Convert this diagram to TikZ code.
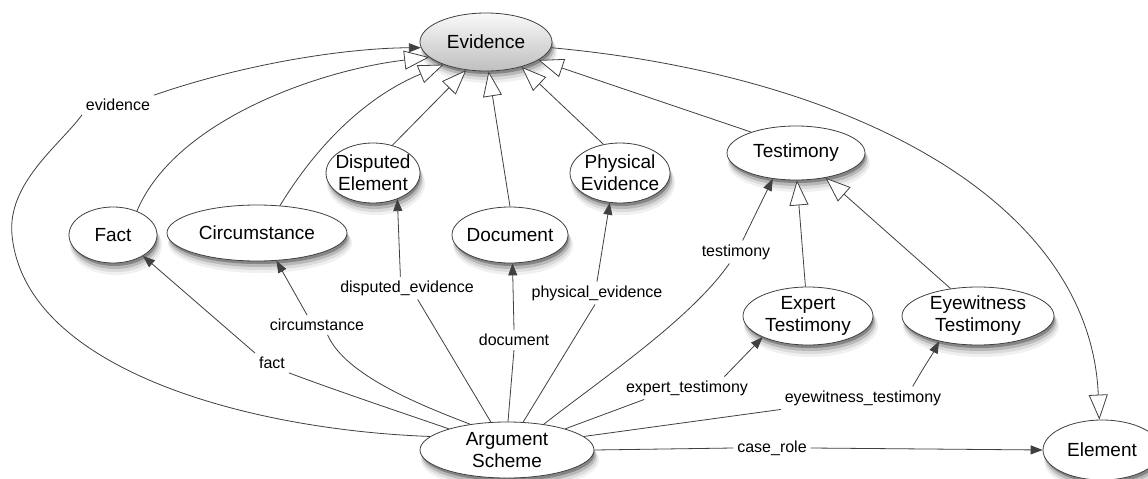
\documentclass[tikz,border=0pt]{standalone}
\usepackage{fontspec}
\setmainfont{Liberation Sans}
\usetikzlibrary{shapes.geometric,arrows.meta}
\pgfdeclarelayer{bg}
\pgfdeclarelayer{shade}
\pgfsetlayers{bg,shade,main}

\begin{document}
\begin{tikzpicture}[x=1pt,y=-1pt,
  cls/.style={ellipse, draw=black!75, line width=0.8pt, fill=white,
    inner xsep=-40pt, inner ysep=-20pt, font=\fontsize{19}{22}\selectfont,
    align=center, text=black},
  lbl/.style={inner sep=1pt, outer sep=3pt, font=\fontsize{16}{18}\selectfont, text=black},
  edge/.style={draw=black!75, line width=0.8pt},
  gen/.style={edge, -{Triangle[length=25pt,width=19pt,fill=white]}},
  assoc/.style={edge, -{Triangle[length=12pt,width=9pt]}},
]
\begin{pgfonlayer}{bg}
\fill[white] (0,0) rectangle (1148,479);
\end{pgfonlayer}
\useasboundingbox (0,0) rectangle (1148,479);

% classes
\node[cls, minimum width=132pt, minimum height=58pt, top color=gray!5, bottom color=gray!50] (Evidence) at (486,42) {Evidence};
\node[cls, minimum width=88pt, minimum height=56pt] (Fact) at (113,235) {Fact};
\node[cls, minimum width=180pt, minimum height=56pt] (Circ) at (257,233) {Circumstance};
\node[cls, minimum width=94pt, minimum height=60pt] (Disp) at (373,173) {Disputed\\Element};
\node[cls, minimum width=116pt, minimum height=56pt] (Doc) at (510,235) {Document};
\node[cls, minimum width=100pt, minimum height=60pt] (Phys) at (620,173) {Physical\\Evidence};
\node[cls, minimum width=138pt, minimum height=54pt] (Test) at (796,153) {Testimony};
\node[cls, minimum width=130pt, minimum height=58pt] (Expert) at (808,316) {Expert\\Testimony};
\node[cls, minimum width=152pt, minimum height=58pt] (Eye) at (978,316) {Eyewitness\\Testimony};
\node[cls, minimum width=174pt, minimum height=56pt] (AS) at (507,450) {Argument\\Scheme};
\node[cls, minimum width=118pt, minimum height=60pt] (Element) at (1102,450) {Element};

% soft shadows below the classes
\begin{pgfonlayer}{shade}
\foreach \n/\rx/\ry in {Evidence/66/29, Fact/44/28, Circ/90/28, Disp/47/30, Doc/58/28, Phys/50/30, Test/69/27, Expert/65/29, Eye/76/29, AS/87/28, Element/59/30} {
  \fill[black!6] ([shift={(3,10)}]\n.center) ellipse [x radius=\rx+2, y radius=\ry+2];
  \fill[black!14] ([shift={(2.5,8)}]\n.center) ellipse [x radius=\rx+1, y radius=\ry+1];
  \fill[black!28] ([shift={(2,6)}]\n.center) ellipse [x radius=\rx, y radius=\ry];
  \fill[black!48] ([shift={(1.5,4)}]\n.center) ellipse [x radius=\rx-1, y radius=\ry-1];
}
\end{pgfonlayer}

% labels
\node[lbl] (levid) at (118,105) {evidence};
\node[lbl] (lfact) at (272,363) {fact};
\node[lbl] (lcirc) at (317,325) {circumstance};
\node[lbl] (ldisp) at (407,288) {disputed\_evidence};
\node[lbl] (ldoc) at (514,340) {document};
\node[lbl] (lphys) at (597,293) {physical\_evidence};
\node[lbl] (ltest) at (736,252) {testimony};
\node[lbl] (lexp) at (687,388) {expert\_testimony};
\node[lbl] (leye) at (863,398) {eyewitness\_testimony};
\node[lbl] (lcase) at (772,448) {case\_role};
\coordinate (bendL) at (12,235);

% generalisations
\draw[gen] (Fact.45) .. controls (175,120) and (320,70) .. (Evidence.195);
\draw[gen] (Circ.50) .. controls (320,140) and (370,95) .. (Evidence.208);
\draw[gen] (Disp.55) -- (Evidence.235);
\draw[gen] (Doc.north) -- (Evidence.275);
\draw[gen] (Phys.120) -- (Evidence.-35);
\draw[gen] (Test.155) -- (Evidence.-19);
\draw[gen] (Evidence.-5) .. controls (850,75) and (1090,200) .. (Element.95);
\draw[gen] (Expert.95) -- (Test.-88);
\draw[gen] (Eye.135) -- (Test.-40);

% associations
\draw[edge] (AS.170) .. controls (250,430) and (25,370) .. (bendL) .. controls (7,183) and (60,145) .. (levid.south west);
\draw[assoc] (levid.north east) .. controls (250,62) and (350,48) .. (Evidence.185);
\draw[edge] (AS.160) .. controls (400,412) and (340,392) .. (lfact.south east);
\draw[assoc] (lfact.north west) -- (Fact.-35);
\draw[edge] (AS.145) .. controls (420,405) and (345,375) .. (lcirc.-43);
\draw[assoc] (lcirc.135) -- (Circ.-55);
\draw[edge] (AS.120) -- (ldisp.-47);
\draw[assoc] (ldisp.120) -- (Disp.-47);
\draw[edge] (AS.88) -- (ldoc.south);
\draw[assoc] (ldoc.north) -- (Doc.-85);
\draw[edge] (AS.60) -- (lphys.-100);
\draw[assoc] (lphys.north) -- (Phys.-109);
\draw[edge] (AS.35) .. controls (600,380) and (690,320) .. (ltest.-120);
\draw[assoc] (ltest.60) -- (Test.-132);
\draw[edge] (AS.20) -- (lexp.-165);
\draw[assoc] (lexp.17) -- (Expert.-155);
\draw[edge] (AS.10) -- (leye.south west);
\draw[assoc] (leye.13) .. controls (925,365) and (932,355) .. (Eye.-147);
\draw[edge] (AS.east) -- (lcase.west);
\draw[assoc] (lcase.east) -- (Element.west);
\end{tikzpicture}
\end{document}
